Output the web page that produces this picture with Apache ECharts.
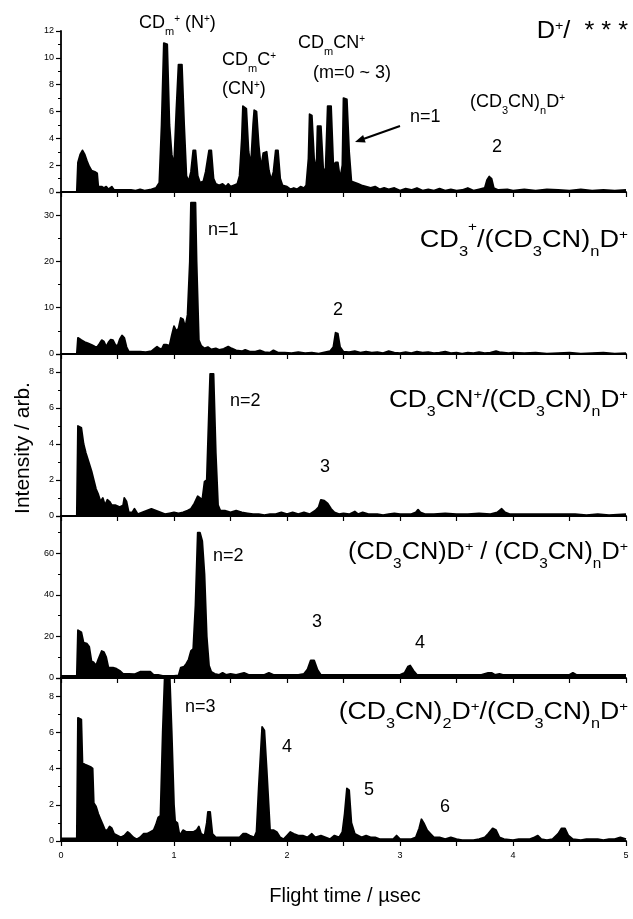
<!DOCTYPE html>
<html>
<head>
<meta charset="utf-8">
<script src="https://cdn.jsdelivr.net/npm/echarts@6/dist/echarts.min.js"></script>
<style>
  html, body { margin: 0; padding: 0; background: #fff; }
  #chart { width: 633px; height: 919px; }
</style>
</head>
<body>
<div id="chart"></div>
<script>
// flight time (usec) / intensity pairs
var specD = [[0,0],[0.14,0],[0.15,2.2],[0.17,2.8],[0.19,3.1],[0.21,2.8],[0.23,2.3],[0.25,1.9],[0.27,1.6],[0.30,1.5],[0.32,1.4],[0.33,0.4],[0.36,0.4],[0.38,0.3],[0.40,0.4],[0.42,0.2],[0.45,0.4],[0.47,0.15],[0.55,0.15],[0.62,0.15],[0.66,0.1],[0.70,0.2],[0.74,0.1],[0.80,0.2],[0.84,0.3],[0.87,0.7],[0.89,5],[0.91,11.1],[0.94,11.0],[0.96,5],[0.98,2.8],[1.00,2.0],[1.02,6],[1.04,9.5],[1.07,9.5],[1.09,5],[1.11,1.2],[1.13,0.8],[1.15,1.5],[1.17,3.1],[1.19,3.1],[1.21,1.2],[1.23,0.7],[1.26,0.8],[1.28,1.5],[1.31,3.1],[1.33,3.1],[1.35,1.0],[1.37,0.6],[1.40,0.5],[1.43,0.6],[1.46,0.4],[1.48,0.6],[1.50,0.4],[1.53,0.5],[1.56,0.6],[1.58,1.2],[1.60,4],[1.61,6.4],[1.64,6.2],[1.66,3],[1.68,2],[1.70,5],[1.71,6.1],[1.73,6.0],[1.75,3.5],[1.77,1.8],[1.79,2.9],[1.82,3.0],[1.84,1.6],[1.86,0.9],[1.88,1.5],[1.90,3.1],[1.92,3.1],[1.94,1.0],[1.96,0.5],[2.00,0.4],[2.03,0.2],[2.06,0.3],[2.09,0.2],[2.12,0.4],[2.15,0.3],[2.17,0.5],[2.19,2.5],[2.20,5.8],[2.22,5.7],[2.24,2.5],[2.26,1.5],[2.27,4.9],[2.30,4.9],[2.32,1.8],[2.34,1.4],[2.36,6.4],[2.39,6.4],[2.41,2.0],[2.43,2.2],[2.45,2.2],[2.47,1.0],[2.49,2.0],[2.50,7.0],[2.53,6.9],[2.55,3],[2.57,0.8],[2.60,0.7],[2.63,0.6],[2.66,0.5],[2.70,0.4],[2.74,0.3],[2.78,0.4],[2.82,0.2],[2.86,0.3],[2.90,0.2],[2.95,0.3],[3.00,0.1],[3.05,0.25],[3.10,0.15],[3.15,0.3],[3.20,0.1],[3.25,0.2],[3.30,0.1],[3.35,0.25],[3.40,0.1],[3.45,0.2],[3.50,0.1],[3.55,0.15],[3.60,0.3],[3.65,0.1],[3.70,0.2],[3.75,0.3],[3.77,0.9],[3.79,1.15],[3.81,1.0],[3.83,0.3],[3.87,0.15],[3.95,0.2],[4.00,0.1],[4.10,0.2],[4.20,0.1],[4.30,0.2],[4.40,0.15],[4.50,0.1],[4.60,0.2],[4.70,0.1],[4.80,0.15],[4.90,0.1],[5.00,0.15]];

var specCD3 = [[0,0],[0.14,0],[0.15,3.5],[0.18,3.0],[0.21,2.6],[0.24,2.3],[0.27,2.0],[0.30,1.6],[0.32,1.5],[0.34,2.2],[0.36,3.0],[0.38,2.7],[0.40,1.6],[0.42,2.5],[0.44,3.1],[0.46,3.0],[0.48,2.0],[0.50,1.7],[0.52,3.2],[0.54,4.0],[0.56,3.5],[0.58,1.5],[0.60,0.5],[0.65,0.5],[0.70,0.5],[0.75,0.4],[0.80,0.6],[0.83,1.2],[0.85,1.6],[0.87,1.2],[0.89,1.0],[0.91,2.0],[0.93,2.0],[0.96,1.8],[0.98,4],[1.00,6.0],[1.02,5.0],[1.04,5.5],[1.06,7.8],[1.08,7.5],[1.10,5.8],[1.12,8.5],[1.14,20],[1.15,32.7],[1.19,32.7],[1.20,20],[1.22,3],[1.24,1.8],[1.27,1.2],[1.30,1.5],[1.33,1.0],[1.37,1.2],[1.40,0.9],[1.44,1.1],[1.48,1.6],[1.51,1.2],[1.55,0.8],[1.60,0.6],[1.63,0.9],[1.67,0.5],[1.72,0.5],[1.76,0.8],[1.80,0.4],[1.85,0.3],[1.88,0.8],[1.92,0.3],[1.98,0.3],[2.04,0.2],[2.10,0.4],[2.16,0.2],[2.22,0.3],[2.28,0.1],[2.34,0.4],[2.38,0.6],[2.41,1.5],[2.43,4.6],[2.45,4.4],[2.47,1.5],[2.50,0.5],[2.55,0.4],[2.60,0.6],[2.65,0.3],[2.70,0.5],[2.75,0.3],[2.80,0.4],[2.85,0.2],[2.90,0.6],[2.95,0.3],[3.00,0.2],[3.05,0.4],[3.10,0.2],[3.15,0.5],[3.20,0.3],[3.25,0.4],[3.30,0.2],[3.35,0.3],[3.40,0.5],[3.45,0.2],[3.50,0.3],[3.55,0.1],[3.60,0.3],[3.65,0.2],[3.70,0.4],[3.75,0.2],[3.80,0.3],[3.85,0.6],[3.88,0.4],[3.92,0.3],[3.96,0.2],[4.00,0.3],[4.10,0.2],[4.20,0.3],[4.30,0.1],[4.40,0.2],[4.50,0.3],[4.60,0.1],[4.70,0.2],[4.80,0.3],[4.90,0.1],[5.00,0.2]];

var specCD3CN = [[0,0],[0.14,0],[0.15,5.0],[0.18,4.9],[0.20,4.0],[0.22,3.5],[0.25,2.9],[0.27,2.5],[0.29,2.0],[0.31,1.5],[0.33,1.2],[0.35,0.8],[0.37,1.0],[0.39,0.6],[0.41,0.9],[0.43,0.8],[0.45,0.6],[0.48,0.6],[0.52,0.5],[0.55,0.6],[0.56,1.0],[0.58,0.8],[0.60,0.2],[0.63,0.2],[0.65,0.4],[0.68,0.1],[0.72,0.2],[0.76,0.3],[0.80,0.4],[0.84,0.3],[0.88,0.2],[0.92,0.1],[0.96,0.15],[1.00,0.2],[1.04,0.15],[1.08,0.2],[1.12,0.3],[1.15,0.4],[1.18,0.7],[1.21,1.1],[1.23,1.0],[1.25,0.9],[1.27,1.9],[1.29,2.0],[1.31,6],[1.32,7.9],[1.35,7.9],[1.37,3.5],[1.39,0.6],[1.41,0.3],[1.45,0.3],[1.50,0.2],[1.55,0.3],[1.60,0.2],[1.65,0.15],[1.70,0.1],[1.75,0.1],[1.80,0.05],[1.85,0.1],[1.90,0.1],[1.95,0.2],[2.00,0.1],[2.05,0.2],[2.10,0.1],[2.15,0.2],[2.20,0.1],[2.25,0.3],[2.28,0.5],[2.30,0.9],[2.33,0.85],[2.36,0.7],[2.39,0.4],[2.42,0.2],[2.46,0.1],[2.50,0.15],[2.55,0.1],[2.60,0.25],[2.63,0.1],[2.67,0.2],[2.72,0.1],[2.76,0.1],[2.80,0.1],[2.85,0.05],[2.90,0.1],[2.95,0.15],[3.00,0.1],[3.05,0.1],[3.10,0.1],[3.14,0.2],[3.16,0.35],[3.18,0.2],[3.22,0.1],[3.30,0.1],[3.40,0.15],[3.50,0.1],[3.60,0.1],[3.70,0.15],[3.80,0.1],[3.86,0.2],[3.90,0.4],[3.93,0.2],[3.97,0.1],[4.05,0.1],[4.15,0.1],[4.25,0.1],[4.35,0.1],[4.45,0.1],[4.55,0.1],[4.65,0.05],[4.75,0.1],[4.85,0.05],[5.00,0.1]];

var specMono = [[0,1],[0.14,1],[0.15,23],[0.18,22],[0.20,17],[0.23,16.5],[0.25,15],[0.27,8],[0.29,7.5],[0.31,6],[0.33,9],[0.36,13],[0.38,12.5],[0.40,10],[0.42,5],[0.46,5],[0.49,4.5],[0.52,3.5],[0.55,2],[0.60,2],[0.65,1.8],[0.70,3],[0.75,3],[0.79,3],[0.82,1.5],[0.86,1.5],[0.90,1.0],[0.95,1.0],[1.00,1.0],[1.04,1.2],[1.06,5],[1.09,5.5],[1.11,7],[1.13,9],[1.15,13],[1.17,14],[1.19,35],[1.21,70],[1.23,70],[1.25,66],[1.27,50],[1.29,20],[1.31,6],[1.33,3],[1.36,2],[1.40,1.5],[1.43,2.5],[1.46,1.5],[1.50,2],[1.55,1.5],[1.62,2.5],[1.66,1.5],[1.72,1.5],[1.80,1.5],[1.84,2.5],[1.88,1.5],[1.95,1.5],[2.00,1.5],[2.05,1.5],[2.10,1.5],[2.15,2],[2.18,4],[2.21,8.5],[2.24,8.5],[2.27,4],[2.30,1.5],[2.40,1.5],[2.50,1.5],[2.60,1.5],[2.70,1.5],[2.80,1.5],[2.90,1.5],[3.00,1.5],[3.04,2.5],[3.07,5.5],[3.09,6],[3.12,3.5],[3.15,1.5],[3.25,1.5],[3.35,1.5],[3.45,1.5],[3.55,1.5],[3.65,1.5],[3.72,1.5],[3.78,2.5],[3.81,2.5],[3.84,1.5],[3.88,2],[3.91,1.5],[4.00,1.5],[4.10,1.5],[4.20,1.5],[4.30,1.5],[4.40,1.5],[4.50,1.5],[4.53,2.5],[4.56,1.5],[4.70,1.5],[4.80,1.5],[4.90,1.5],[5.00,1.5]];

var specDimer = [[0,0.15],[0.14,0.15],[0.15,6.8],[0.18,6.7],[0.19,4.3],[0.22,4.2],[0.26,4.1],[0.28,4.0],[0.29,2.1],[0.31,1.9],[0.33,1.5],[0.35,1.2],[0.37,0.9],[0.39,0.6],[0.41,0.6],[0.43,0.8],[0.45,0.7],[0.47,0.4],[0.50,0.3],[0.53,0.2],[0.56,0.3],[0.59,0.5],[0.61,0.4],[0.64,0.2],[0.67,0.1],[0.70,0.2],[0.73,0.4],[0.76,0.4],[0.79,0.5],[0.82,0.6],[0.84,0.9],[0.86,1.3],[0.88,1.4],[0.90,6],[0.92,9.5],[0.96,9.5],[0.98,6],[1.00,2],[1.01,1.1],[1.03,1.0],[1.05,0.3],[1.08,0.6],[1.11,0.5],[1.14,0.5],[1.17,0.5],[1.20,0.6],[1.22,0.8],[1.24,0.4],[1.27,0.3],[1.29,1.0],[1.30,1.6],[1.32,1.6],[1.34,0.4],[1.37,0.2],[1.45,0.2],[1.52,0.2],[1.58,0.2],[1.61,0.4],[1.64,0.4],[1.67,0.3],[1.71,0.2],[1.73,0.5],[1.75,3],[1.78,6.3],[1.80,6.1],[1.82,4],[1.85,0.6],[1.88,0.6],[1.91,0.5],[1.94,0.2],[1.97,0.1],[2.00,0.3],[2.03,0.5],[2.06,0.4],[2.10,0.3],[2.14,0.3],[2.18,0.2],[2.22,0.4],[2.25,0.2],[2.30,0.3],[2.34,0.2],[2.38,0.1],[2.42,0.3],[2.46,0.2],[2.49,0.5],[2.51,1.5],[2.53,2.9],[2.55,2.8],[2.57,1.0],[2.60,0.4],[2.63,0.3],[2.66,0.2],[2.70,0.3],[2.74,0.2],[2.78,0.2],[2.82,0.1],[2.86,0.1],[2.90,0.1],[2.94,0.1],[2.97,0.3],[3.00,0.1],[3.05,0.1],[3.10,0.1],[3.14,0.2],[3.17,0.7],[3.19,1.2],[3.21,1.0],[3.24,0.6],[3.27,0.4],[3.30,0.2],[3.35,0.2],[3.40,0.1],[3.45,0.2],[3.50,0.1],[3.55,0.05],[3.60,0.05],[3.65,0.05],[3.70,0.1],[3.75,0.2],[3.78,0.4],[3.82,0.7],[3.85,0.6],[3.88,0.2],[3.92,0.1],[4.00,0.05],[4.05,0.1],[4.10,0.1],[4.15,0.1],[4.19,0.2],[4.22,0.3],[4.25,0.1],[4.30,0.05],[4.35,0.1],[4.40,0.4],[4.43,0.7],[4.46,0.7],[4.49,0.3],[4.53,0.1],[4.60,0.05],[4.65,0.1],[4.70,0.1],[4.75,0.1],[4.80,0.05],[4.85,0.1],[4.90,0.1],[4.95,0.2],[5.00,0.1]];

var spectra = [specD, specCD3, specCD3CN, specMono, specDimer];
var yMax = [12, 35, 9, 78, 9];
var yStep = [2, 10, 2, 20, 2];
var xTicks = [0, 1, 2, 3, 4, 5];

var FONT = '"Liberation Sans", Arial, Helvetica, sans-serif';
var gridTop = [31, 192, 354, 516, 678];
var gridH = [161, 162, 162, 162, 163];

var chart = echarts.init(document.getElementById('chart'), null, {renderer: 'canvas'});

// rich text: n = normal, b = subscript, p = superscript, q = high superscript
function richSet(size, supOff) {
  var H = 1.8 * size;
  function f(s) { return Math.round(s) + 'px ' + FONT; }
  return {
    n: {font: f(size), fontSize: Math.round(size), fontFamily: FONT, height: H, lineHeight: H, fill: '#000'},
    b: {font: f(size * 0.62), fontSize: Math.round(size * 0.62), fontFamily: FONT, height: 0.8 * size, lineHeight: 0.8 * size, verticalAlign: 'bottom', fill: '#000'},
    p: {font: f(size * 0.55), fontSize: Math.round(size * 0.55), fontFamily: FONT, height: H - 2 * supOff * size, lineHeight: H - 2 * supOff * size, verticalAlign: 'top', fill: '#000'},
    q: {font: f(size * 0.55), fontSize: Math.round(size * 0.55), fontFamily: FONT, height: 0.62 * size, lineHeight: 0.62 * size, verticalAlign: 'top', fill: '#000'}
  };
}

function rtext(x, y, text, size, align, sx, supOff) {
  return {
    type: 'text', x: x, y: y, scaleX: sx || 1, silent: true,
    style: {
      text: text, rich: richSet(size, supOff || 0.25),
      font: size + 'px ' + FONT, fill: '#000',
      align: align, verticalAlign: 'middle'
    }
  };
}

function ptext(x, y, text, size, align) {
  return {
    type: 'text', x: x, y: y, silent: true,
    style: {text: text, font: size + 'px ' + FONT, fill: '#000', align: align, verticalAlign: 'middle'}
  };
}

var TS = 23;   // panel titles
var AS = 18;   // annotations
var graphics = [
  // panel titles
  rtext(628, 32, '{n|D}{p|+}{n|/  * * *}', TS, 'right', 1.1),
  rtext(628, 241, '{n|CD}{b|3}{q|+}{n|/(CD}{b|3}{n|CN)}{b|n}{n|D}{p|+}', TS, 'right', 1.18),
  rtext(628, 401, '{n|CD}{b|3}{n|CN}{p|+}{n|/(CD}{b|3}{n|CN)}{b|n}{n|D}{p|+}', TS, 'right', 1.14),
  rtext(628, 553, '{n|(CD}{b|3}{n|CN)D}{p|+}{n| / (CD}{b|3}{n|CN)}{b|n}{n|D}{p|+}', TS, 'right', 1.1),
  rtext(628, 713, '{n|(CD}{b|3}{n|CN)}{b|2}{n|D}{p|+}{n|/(CD}{b|3}{n|CN)}{b|n}{n|D}{p|+}', TS, 'right', 1.16),

  // panel 1 annotations
  rtext(139, 23, '{n|CD}{b|m}{p|+}{n| (N}{p|+}{n|)}', AS, 'left', 1, 0.19),
  rtext(222, 60, '{n|CD}{b|m}{n|C}{p|+}', AS, 'left', 1, 0.19),
  rtext(222, 89, '{n|(CN}{p|+}{n|)}', AS, 'left', 1, 0.19),
  rtext(298, 43, '{n|CD}{b|m}{n|CN}{p|+}', AS, 'left', 1, 0.19),
  ptext(313, 73, '(m=0 ~ 3)', AS, 'left'),
  ptext(410, 117, 'n=1', AS, 'left'),
  rtext(470, 102, '{n|(CD}{b|3}{n|CN)}{b|n}{n|D}{p|+}', AS, 'left', 1, 0.19),
  ptext(497, 147, '2', AS, 'center'),
  {type: 'line', silent: true, shape: {x1: 400, y1: 126, x2: 364, y2: 138.7}, style: {stroke: '#000', lineWidth: 2}},
  {type: 'polygon', silent: true, shape: {points: [[355, 142], [363.1, 134.9], [365.7, 142.4]]}, style: {fill: '#000'}},

  // panel 2
  ptext(208, 230, 'n=1', AS, 'left'),
  ptext(338, 310, '2', AS, 'center'),
  // panel 3
  ptext(230, 401, 'n=2', AS, 'left'),
  ptext(325, 467, '3', AS, 'center'),
  // panel 4
  ptext(213, 556, 'n=2', AS, 'left'),
  ptext(317, 622, '3', AS, 'center'),
  ptext(420, 643, '4', AS, 'center'),
  // panel 5
  ptext(185, 707, 'n=3', AS, 'left'),
  ptext(287, 747, '4', AS, 'center'),
  ptext(369, 790, '5', AS, 'center'),
  ptext(445, 807, '6', AS, 'center'),

  // axis titles
  {type: 'text', x: 23, y: 448, rotation: Math.PI / 2, silent: true,
   style: {text: 'Intensity / arb.', font: '21px ' + FONT, fill: '#000', align: 'center', verticalAlign: 'middle'}},
  {type: 'text', x: 345, y: 896, silent: true,
   style: {text: 'Flight time / \u00b5sec', font: '20px ' + FONT, fill: '#000', align: 'center', verticalAlign: 'middle'}}
];

var grids = [], xAxes = [], yAxes = [], series = [];
for (var i = 0; i < 5; i++) {
  grids.push({left: 61, width: 565, top: gridTop[i], height: gridH[i], outerBoundsMode: 'none'});
  xAxes.push({
    type: 'value', gridIndex: i, min: 0, max: 5, interval: 1,
    axisLine: {show: true, onZero: false, lineStyle: {color: '#000', width: 1.8}},
    axisTick: {show: true, inside: false, length: 5, lineStyle: {color: '#000', width: 1.2}},
    minorTick: {show: true, splitNumber: 2, length: 5, lineStyle: {color: '#000', width: 1.2}},
    splitLine: {show: false},
    axisLabel: {
      show: i === 4, margin: 10, color: '#000', fontSize: 9, fontFamily: FONT,
      formatter: function (v) { return xTicks.indexOf(v) >= 0 ? String(v) : ''; }
    }
  });
  yAxes.push({
    type: 'value', gridIndex: i, min: 0, max: yMax[i], interval: yStep[i],
    axisLine: {show: true, onZero: false, lineStyle: {color: '#000', width: 1.8}},
    axisTick: {show: true, inside: false, length: 5, lineStyle: {color: '#000', width: 1.2}},
    minorTick: {show: true, splitNumber: 2, length: 3, lineStyle: {color: '#000', width: 1}},
    splitLine: {show: false},
    axisLabel: {
      margin: 7, color: '#000', fontSize: 9, fontFamily: FONT,
      showMaxLabel: yMax[i] % yStep[i] === 0
    }
  });
  series.push({
    type: 'line', xAxisIndex: i, yAxisIndex: i, data: spectra[i],
    symbol: 'none', silent: true, clip: true,
    lineStyle: {color: '#000', width: 1.8, join: 'round'},
    areaStyle: {color: '#000', opacity: 1}
  });
}

chart.setOption({
  animation: false,
  backgroundColor: '#fff',
  grid: grids,
  xAxis: xAxes,
  yAxis: yAxes,
  series: series,
  graphic: graphics
});
</script>
</body>
</html>
